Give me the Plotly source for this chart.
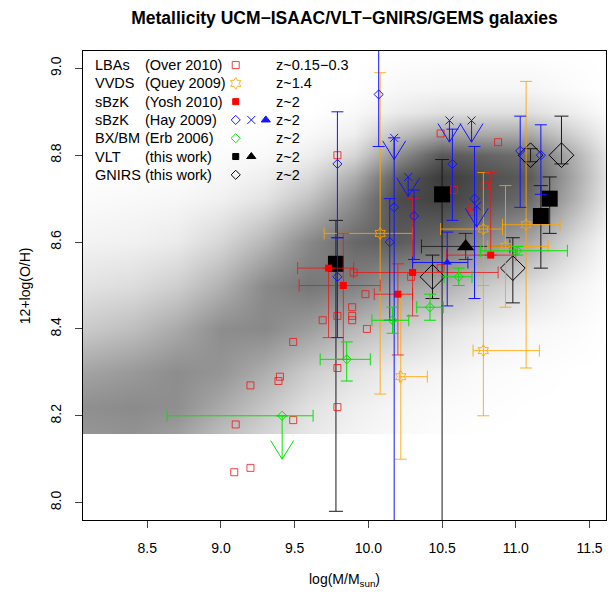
import plotly.graph_objects as go

# ---------------- data ----------------
# LBAs (Overzier 2010), z~0.15-0.3
lba_x = [9.79, 10.49, 10.88, 10.58, 10.79, 10.70, 10.70, 9.90, 10.29, 10.49, 9.98, 9.79, 9.89, 9.89,
         9.89, 9.69, 9.99, 9.49, 9.79, 9.40, 9.39, 9.20, 9.79, 9.49, 9.10, 9.20, 9.09]
lba_y = [8.80, 8.85, 8.83, 8.72, 8.73, 8.68, 8.67, 8.53, 8.52, 8.54, 8.48, 8.43, 8.45, 8.43,
         8.42, 8.42, 8.40, 8.37, 8.31, 8.29, 8.28, 8.27, 8.22, 8.19, 8.18, 8.08, 8.07]

# VVDS (Queyrel 2009), z~1.4
vv_x = [10.08, 10.22, 10.78, 11.07, 10.93, 10.78]
vv_y = [8.62, 8.29, 8.63, 8.64, 8.59, 8.35]
vv_xm = [0.38, 0.01, 0.29, 0.16, 0.12, 0.07]
vv_xp = [0.22, 0.18, 0.13, 0.23, 0.29, 0.38]
vv_ym = [0.37, 0.19, 0.13, 0.33, 0.14, 0.15]
vv_yp = [0.37, 0.19, 0.13, 0.33, 0.14, 0.15]

# sBzK (Yoshikawa 2010), z~2
yo_x = [9.73, 9.83, 10.20, 10.30, 10.83]
yo_y = [8.54, 8.50, 8.48, 8.53, 8.57]
yo_xm = [0.21, 0.30, 0.16, 0.40, 0.30]
yo_xp = [0.17, 0.25, 0.10, 0.58, 0.17]
yo_ym = [0.16, 0.17, 0.14, 0.10, 0.00]
yo_yp = [0.00, 0.12, 0.07, 0.17, 0.19]

# sBzK (Hayashi 2009), z~2 : diamonds
hd_x = [9.79, 9.79, 10.07, 10.175, 10.145, 10.31, 10.57, 10.72, 11.03, 11.17]
hd_y = [8.78, 8.52, 8.94, 8.68, 8.60, 8.66, 8.78, 8.70, 8.81, 8.80]
hd_yp = [0.12, 0.09, 0.12, 0.16, 0.10, 0.06, 0.08, 0.12, 0.08, 0.07]
hd_ym = [0.17, 0.14, 0.12, 0.90, 0.18, 0.10, 0.13, 0.23, 0.13, 0.09]
# Hayashi upper limits (crosses with arrows)
hc_x = [10.175, 10.27, 10.55, 10.70, 10.735]
hc_y = [8.84, 8.75, 8.88, 8.88, 8.683]
hc_tip = [8.79, 8.705, 8.83, 8.83, 8.635]
# Hayashi stack (triangle)
ht_x = [10.535]
ht_y = [8.553]
ht_xm = [0.235]
ht_xp = [0.14]
ht_ym = [0.10]
ht_yp = [0.07]

# BX/BM (Erb 2006), z~2
er_x = [9.415, 9.853, 10.164, 10.418, 10.613, 11.01]
er_y = [8.20, 8.33, 8.42, 8.45, 8.52, 8.58]
er_xm = [0.78, 0.18, 0.14, 0.09, 0.10, 0.25]
er_xp = [0.21, 0.16, 0.11, 0.09, 0.09, 0.34]
er_ym = [0.0, 0.05, 0.03, 0.03, 0.02, 0.01]
er_yp = [0.0, 0.04, 0.03, 0.03, 0.02, 0.01]
er_lim_x = [9.415]
er_lim_y = [8.20]
er_lim_tip = [8.10]

# VLT (this work): squares and stacked triangle
vs_x = [9.78, 10.50, 11.23, 11.17]
vs_y = [8.55, 8.71, 8.70, 8.66]
vs_yp = [0.10, 0.08, 0.05, 0.07]
vs_ym = [0.57, 0.90, 0.08, 0.12]
vt_x = [10.66]
vt_y = [8.59]
vt_xm = [0.30]
vt_xp = [0.30]
vt_ym = [0.03]
vt_yp = [0.03]

# GNIRS (this work)
gn_x = [10.435, 10.98, 11.10, 11.31]
gn_y = [8.52, 8.54, 8.80, 8.80]
gn_yp = [0.05, 0.07, 0.015, 0.09]
gn_ym = [0.05, 0.08, 0.015, 0.02]

# background density (grey level 0=white .. 1=darkest), read on a coarse grid
bg_x = [8.065, 8.08, 8.4, 8.7, 9.0, 9.3, 9.6, 9.9, 10.2, 10.5, 10.8, 11.1, 11.4, 11.62]
bg_y = [8.16, 8.165, 8.22, 8.3, 8.4, 8.5, 8.6, 8.7, 8.75, 8.8, 8.85, 8.9, 8.95, 9.04]
bg_z = [
    [0.52, 0.52, 0.54, 0.48, 0.33, 0.22, 0.12, 0.06, 0.03, 0.01, 0.00, 0.00, 0.00, 0.00],
    [0.52, 0.52, 0.54, 0.48, 0.33, 0.22, 0.12, 0.06, 0.03, 0.01, 0.00, 0.00, 0.00, 0.00],
    [0.55, 0.55, 0.57, 0.55, 0.42, 0.28, 0.15, 0.08, 0.04, 0.02, 0.01, 0.00, 0.00, 0.00],
    [0.45, 0.45, 0.50, 0.56, 0.52, 0.40, 0.25, 0.15, 0.08, 0.05, 0.02, 0.01, 0.00, 0.00],
    [0.26, 0.26, 0.32, 0.42, 0.56, 0.58, 0.48, 0.35, 0.24, 0.15, 0.08, 0.04, 0.02, 0.00],
    [0.14, 0.14, 0.17, 0.24, 0.38, 0.58, 0.67, 0.62, 0.48, 0.40, 0.26, 0.16, 0.06, 0.01],
    [0.06, 0.06, 0.07, 0.10, 0.20, 0.36, 0.58, 0.74, 0.80, 0.72, 0.55, 0.42, 0.18, 0.04],
    [0.02, 0.02, 0.03, 0.04, 0.07, 0.14, 0.30, 0.55, 0.88, 0.93, 0.82, 0.72, 0.38, 0.12],
    [0.01, 0.01, 0.01, 0.02, 0.04, 0.08, 0.18, 0.40, 0.80, 0.96, 0.86, 0.80, 0.42, 0.14],
    [0.00, 0.00, 0.00, 0.01, 0.02, 0.03, 0.08, 0.20, 0.55, 0.82, 0.76, 0.70, 0.38, 0.12],
    [0.00, 0.00, 0.00, 0.00, 0.00, 0.01, 0.03, 0.08, 0.30, 0.45, 0.42, 0.42, 0.22, 0.07],
    [0.00, 0.00, 0.00, 0.00, 0.00, 0.00, 0.00, 0.03, 0.10, 0.15, 0.15, 0.15, 0.08, 0.02],
    [0.00, 0.00, 0.00, 0.00, 0.00, 0.00, 0.00, 0.00, 0.04, 0.05, 0.05, 0.05, 0.02, 0.00],
    [0.00] * 14,
]

x_ticks = [8.5, 9.0, 9.5, 10.0, 10.5, 11.0, 11.5]
x_ticklabels = ["8.5", "9.0", "9.5", "10.0", "10.5", "11.0", "11.5"]
y_ticks = [8.0, 8.2, 8.4, 8.6, 8.8, 9.0]
y_ticklabels = ["8.0", "8.2", "8.4", "8.6", "8.8", "9.0"]

leg_names = ["LBAs", "VVDS", "sBzK", "sBzK", "BX/BM", "VLT", "GNIRS"]
leg_refs = ["(Over 2010)", "(Quey 2009)", "(Yosh 2010)", "(Hay 2009)", "(Erb 2006)",
            "(this work)", "(this work)"]
leg_z = ["z~0.15\u22120.3", "z~1.4", "z~2", "z~2", "z~2", "z~2", "z~2"]

title_text = "Metallicity UCM\u2212ISAAC/VLT\u2212GNIRS/GEMS galaxies"

# ---------------- styles ----------------
FONT = "Liberation Sans, Arial, Helvetica, sans-serif"
RED = "#ff0000"
RED_T = "rgba(240,20,20,0.8)"
ORANGE = "rgba(255,165,0,0.85)"
BLUE = "#1414ff"
GREEN = "#00e400"
BLACK = "#000000"
XR = [8.064, 11.612]
YR = [7.96, 9.04]
ARM_DX = 0.078
ARM_DY = 0.043


def ebar(plus, minus, color, width=5, thickness=1):
    return dict(type="data", symmetric=False, array=plus, arrayminus=minus,
                color=color, thickness=thickness, width=width)


def limit_arrows(xs, ys, tips):
    ax, ay = [], []
    for x, y, t in zip(xs, ys, tips):
        ax += [x, x, None, x - ARM_DX, x, x + ARM_DX, None]
        ay += [y, t, None, t + ARM_DY, t, t + ARM_DY, None]
    return ax, ay


fig = go.Figure()

# background density
fig.add_trace(go.Heatmap(x=bg_x, y=bg_y, z=bg_z, zmin=0, zmax=1, zsmooth="best",
                         colorscale=[[0, "#ffffff"], [1, "#333333"]],
                         showscale=False, hoverinfo="skip"))

# VLT squares
fig.add_trace(go.Scatter(x=vs_x, y=vs_y, mode="markers",
                         marker=dict(symbol="square", size=16, color=BLACK),
                         error_y=ebar(vs_yp, vs_ym, "#1a1a1a", width=7)))
# VLT triangle
fig.add_trace(go.Scatter(x=vt_x, y=vt_y, mode="markers",
                         marker=dict(symbol="triangle-up", size=15, color=BLACK),
                         error_x=ebar(vt_xp, vt_xm, "rgba(0,0,0,0.65)", width=7),
                         error_y=ebar(vt_yp, vt_ym, "rgba(0,0,0,0.65)", width=7)))
# GNIRS
fig.add_trace(go.Scatter(x=gn_x, y=gn_y, mode="markers",
                         marker=dict(symbol="diamond-open", size=19, color=BLACK,
                                     line=dict(width=1, color=BLACK)),
                         error_y=ebar(gn_yp, gn_ym, "#1a1a1a", width=7)))
# LBAs
fig.add_trace(go.Scatter(x=lba_x, y=lba_y, mode="markers",
                         marker=dict(symbol="square-open", size=7, color=RED_T,
                                     line=dict(width=1, color=RED_T))))
# VVDS
fig.add_trace(go.Scatter(x=vv_x, y=vv_y, mode="markers",
                         marker=dict(symbol="hexagram-open", size=9, color=ORANGE,
                                     line=dict(width=1, color=ORANGE)),
                         error_x=ebar(vv_xp, vv_xm, ORANGE, width=6),
                         error_y=ebar(vv_yp, vv_ym, ORANGE, width=6)))
# Yoshikawa
fig.add_trace(go.Scatter(x=yo_x, y=yo_y, mode="markers",
                         marker=dict(symbol="square", size=7, color=RED),
                         error_x=ebar(yo_xp, yo_xm, RED_T, width=6),
                         error_y=ebar(yo_yp, yo_ym, RED_T, width=6)))
# Hayashi diamonds
fig.add_trace(go.Scatter(x=hd_x, y=hd_y, mode="markers",
                         marker=dict(symbol="diamond-open", size=7, color=BLUE,
                                     line=dict(width=1, color=BLUE)),
                         error_y=ebar(hd_yp, hd_ym, BLUE, width=6)))
# Hayashi limits
ax, ay = limit_arrows(hc_x, hc_y, hc_tip)
fig.add_trace(go.Scatter(x=ax, y=ay, mode="lines", line=dict(color=BLUE, width=1)))
fig.add_trace(go.Scatter(x=hc_x, y=hc_y, mode="markers",
                         marker=dict(symbol="x-thin-open", size=8, color=BLUE,
                                     line=dict(width=1, color=BLUE))))
# Hayashi triangle
fig.add_trace(go.Scatter(x=ht_x, y=ht_y, mode="markers",
                         marker=dict(symbol="triangle-up", size=8, color=BLUE),
                         error_x=ebar(ht_xp, ht_xm, BLUE, width=6),
                         error_y=ebar(ht_yp, ht_ym, BLUE, width=6)))
# Erb
fig.add_trace(go.Scatter(x=er_x, y=er_y, mode="markers",
                         marker=dict(symbol="diamond-open", size=7, color=GREEN,
                                     line=dict(width=1, color=GREEN)),
                         error_x=ebar(er_xp, er_xm, GREEN, width=6),
                         error_y=ebar(er_yp, er_ym, GREEN, width=6)))
ax, ay = limit_arrows(er_lim_x, er_lim_y, er_lim_tip)
fig.add_trace(go.Scatter(x=ax, y=ay, mode="lines", line=dict(color=GREEN, width=1)))

# ---------------- legend (layout positions, fractions of plot area) ----------------
row_y = [0.970, 0.931, 0.892, 0.853, 0.814, 0.775, 0.736]
col_name, col_ref, col_z = 0.019, 0.1148, 0.3648
sym_x = [0.292, 0.3218, 0.3495]
leg_syms = [
    (0, 0, "square-open", RED_T, 7),
    (0, 1, "hexagram-open", ORANGE, 9),
    (0, 2, "square", RED, 6),
    (0, 3, "diamond-open", BLUE, 7),
    (1, 3, "x-thin-open", BLUE, 8),
    (2, 3, "triangle-up", BLUE, 8),
    (0, 4, "diamond-open", GREEN, 7),
    (0, 5, "square", BLACK, 6),
    (1, 5, "triangle-up", BLACK, 8),
    (0, 6, "diamond-open", BLACK, 7),
]
for c, r, sym, col, sz in leg_syms:
    fig.add_trace(go.Scatter(x=[sym_x[c]], y=[row_y[r]], xaxis="x2", yaxis="y2",
                             mode="markers",
                             marker=dict(symbol=sym, size=sz, color=col,
                                         line=dict(width=1, color=col))))

annots = []
for i in range(len(leg_names)):
    for xx, txt in ((col_name, leg_names[i]), (col_ref, leg_refs[i]), (col_z, leg_z[i])):
        annots.append(dict(x=xx, y=row_y[i], xref="paper", yref="paper", text=txt,
                           showarrow=False, xanchor="left", yanchor="middle",
                           font=dict(size=14.5, color="black", family=FONT)))
annots.append(dict(x=0.5, y=-0.128, xref="paper", yref="paper",
                   text="log(M/M<sub>sun</sub>)", showarrow=False,
                   xanchor="center", yanchor="middle",
                   font=dict(size=14, color="black", family=FONT)))
annots.append(dict(x=-0.1115, y=0.5, xref="paper", yref="paper", text="12+log(O/H)",
                   textangle=-90, showarrow=False, xanchor="center", yanchor="middle",
                   font=dict(size=14, color="black", family=FONT)))

fig.update_layout(
    width=611, height=594,
    margin=dict(l=83, r=5, t=51, b=74),
    paper_bgcolor="white", plot_bgcolor="white",
    showlegend=False,
    font=dict(family=FONT, size=14, color="black"),
    title=dict(text="<b>" + title_text + "</b>", x=0.5, xref="paper",
               y=1 - 17.6 / 594, yref="container", yanchor="middle", xanchor="center",
               font=dict(size=17.5, family=FONT, color="black")),
    xaxis=dict(range=XR, tickvals=x_ticks, ticktext=x_ticklabels, ticks="outside",
               ticklen=7, tickcolor="#444", showline=True, linecolor="black",
               linewidth=1, mirror=True, showgrid=False, zeroline=False,
               ticklabelstandoff=8, tickfont=dict(size=14)),
    yaxis=dict(range=YR, tickvals=y_ticks, ticktext=y_ticklabels, ticks="outside",
               ticklen=7, tickcolor="#444", showline=True, linecolor="black",
               linewidth=1, mirror=True, showgrid=False, zeroline=False,
               tickangle=-90, ticklabelstandoff=8, tickfont=dict(size=14)),
    xaxis2=dict(overlaying="x", range=[0, 1], visible=False),
    yaxis2=dict(overlaying="y", range=[0, 1], visible=False),
    annotations=annots,
)

fig.write_html("out.html", config={"displayModeBar": False},
               post_script="document.body.style.margin='0';document.body.style.overflow='hidden';")
